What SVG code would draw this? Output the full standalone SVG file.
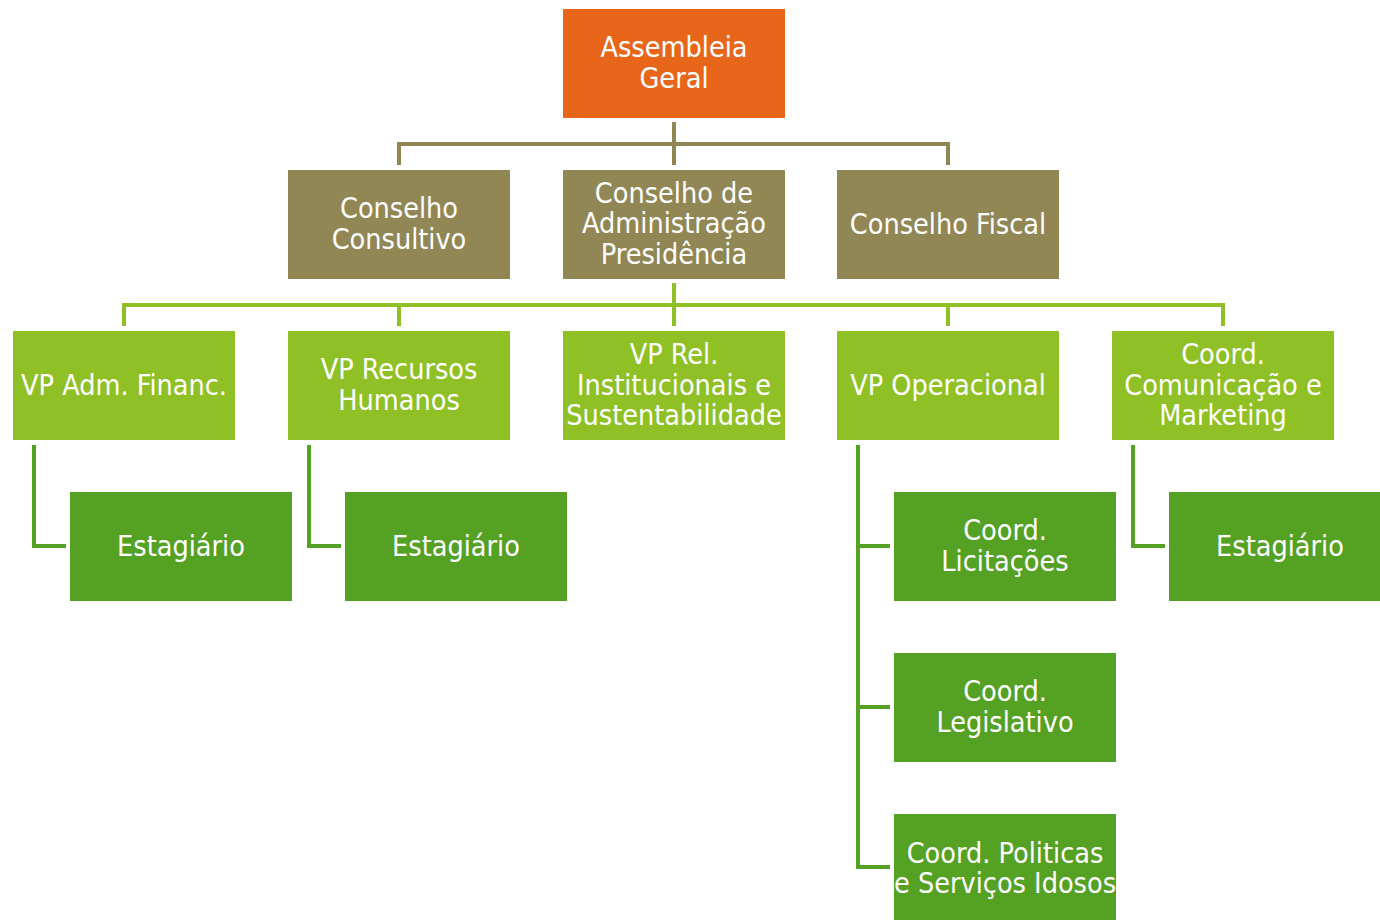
<svg xmlns="http://www.w3.org/2000/svg" width="1380" height="920" viewBox="0 0 1380 920">
<style>
text{font-family:"DejaVu Sans Condensed","DejaVu Sans",sans-serif;font-size:28.5px;fill:#fff;text-anchor:middle}
.a{fill:#E8661A}
.b{fill:#918755}
.c{fill:#8FC127}
.d{fill:#55A124}
.lb{fill:none;stroke:#918755;stroke-width:4}
.lc{fill:none;stroke:#8FC127;stroke-width:4}
.ld{fill:none;stroke:#55A124;stroke-width:4}
</style>
<rect width="1380" height="920" fill="#fff"/>
<g id="connectors">
<path class="lb" d="M674 122V165M399 165V144H948V165"/>
<path class="lc" d="M674 283V326M124 326V305H1223V326M399 305V326M948 305V326"/>
<path class="ld" d="M34 445V546H66M309 445V546H341M858 445V867H890M858 546H890M858 707H890M1133 445V546H1165"/>
</g>
<g id="n-assembleia"><rect class="a" x="563" y="9" width="222" height="109"/><text x="674" y="57">Assembleia</text><text x="674" y="88">Geral</text></g>
<g id="n-consultivo"><rect class="b" x="288" y="170" width="222" height="109"/><text x="399" y="218">Conselho</text><text x="399" y="249">Consultivo</text></g>
<g id="n-administracao"><rect class="b" x="563" y="170" width="222" height="109"/><text x="674" y="203">Conselho de</text><text x="674" y="233">Administração</text><text x="674" y="264">Presidência</text></g>
<g id="n-fiscal"><rect class="b" x="837" y="170" width="222" height="109"/><text x="948" y="234">Conselho Fiscal</text></g>
<g id="n-vp-adm"><rect class="c" x="13" y="331" width="222" height="109"/><text x="124" y="395">VP Adm. Financ.</text></g>
<g id="n-vp-rh"><rect class="c" x="288" y="331" width="222" height="109"/><text x="399" y="379">VP Recursos</text><text x="399" y="410">Humanos</text></g>
<g id="n-vp-rel"><rect class="c" x="563" y="331" width="222" height="109"/><text x="674" y="364">VP Rel.</text><text x="674" y="395">Institucionais e</text><text x="674" y="425">Sustentabilidade</text></g>
<g id="n-vp-op"><rect class="c" x="837" y="331" width="222" height="109"/><text x="948" y="395">VP Operacional</text></g>
<g id="n-coord-com"><rect class="c" x="1112" y="331" width="222" height="109"/><text x="1223" y="364">Coord.</text><text x="1223" y="395">Comunicação e</text><text x="1223" y="425">Marketing</text></g>
<g id="n-est1"><rect class="d" x="70" y="492" width="222" height="109"/><text x="181" y="556">Estagiário</text></g>
<g id="n-est2"><rect class="d" x="345" y="492" width="222" height="109"/><text x="456" y="556">Estagiário</text></g>
<g id="n-licitacoes"><rect class="d" x="894" y="492" width="222" height="109"/><text x="1005" y="540">Coord.</text><text x="1005" y="571">Licitações</text></g>
<g id="n-legislativo"><rect class="d" x="894" y="653" width="222" height="109"/><text x="1005" y="701">Coord.</text><text x="1005" y="732">Legislativo</text></g>
<g id="n-idosos"><rect class="d" x="894" y="814" width="222" height="109"/><text x="1005" y="863">Coord. Politicas</text><text x="1005" y="893">e Serviços Idosos</text></g>
<g id="n-est3"><rect class="d" x="1169" y="492" width="222" height="109"/><text x="1280" y="556">Estagiário</text></g>
</svg>
